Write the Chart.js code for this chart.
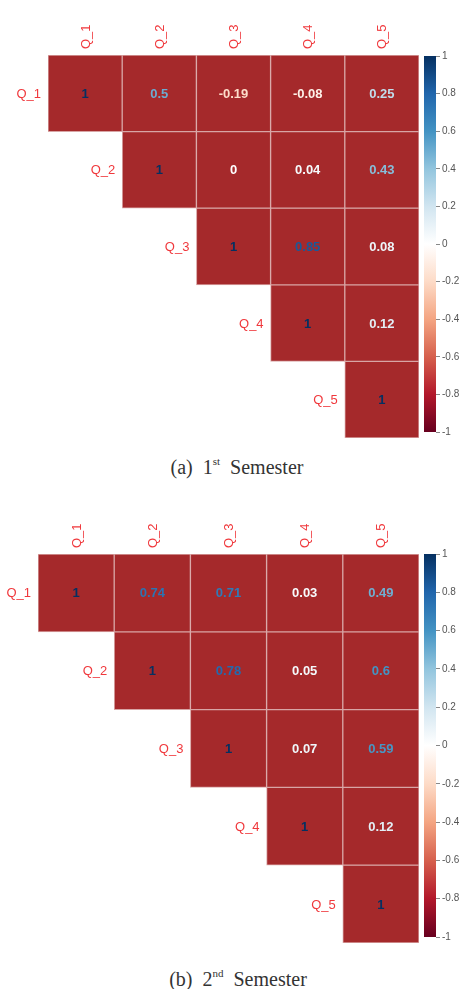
<!DOCTYPE html>
<html>
<head>
<meta charset="utf-8">
<script src="https://cdn.jsdelivr.net/npm/chart.js@4"></script>
<style>
  html, body { margin: 0; padding: 0; background: #ffffff; }
  body { width: 466px; height: 989px; position: relative; overflow: hidden; }
  canvas { position: absolute; }
  .cap { position: absolute; font-family: "Liberation Serif", "Times New Roman", serif; font-size: 20px; color: #333; text-align: center; white-space: pre; line-height: 22px; }
  .cap sup { font-size: 11px; vertical-align: 9px; line-height: 0; }
</style>
</head>
<body>
<canvas id="heat1" width="422" height="440" style="left:0;top:0;width:422px;height:440px"></canvas>
<canvas id="bar1" width="56" height="440" style="left:410px;top:0;width:56px;height:440px"></canvas>
<div class="cap" style="left:117px;top:456px;width:240px">(a)  1<sup>st</sup>  Semester</div>
<canvas id="heat2" width="422" height="445" style="left:0;top:500px;width:422px;height:445px"></canvas>
<canvas id="bar2" width="56" height="445" style="left:410px;top:500px;width:56px;height:445px"></canvas>
<div class="cap" style="left:118px;top:968px;width:240px">(b)  2<sup>nd</sup>  Semester</div>
<script>
// ---- data ----
const questions = ['Q_1', 'Q_2', 'Q_3', 'Q_4', 'Q_5'];
// upper-triangle rows, each starting at the diagonal
const sem1_Q1 = [1, 0.5, -0.19, -0.08, 0.25];
const sem1_Q2 = [1, 0, 0.04, 0.43];
const sem1_Q3 = [1, 0.85, 0.08];
const sem1_Q4 = [1, 0.12];
const sem1_Q5 = [1];
const sem2_Q1 = [1, 0.74, 0.71, 0.03, 0.49];
const sem2_Q2 = [1, 0.78, 0.05, 0.6];
const sem2_Q3 = [1, 0.07, 0.59];
const sem2_Q4 = [1, 0.12];
const sem2_Q5 = [1];
const colorbarTicks = [-1, -0.8, -0.6, -0.4, -0.2, 0, 0.2, 0.4, 0.6, 0.8, 1];
const rdbuStops = ['#67001F', '#B2182B', '#D6604D', '#F4A582', '#FDDBC7', '#FFFFFF', '#D1E5F0', '#92C5DE', '#4393C3', '#2166AC', '#053061'];

const CELL_FILL = '#a5292b';
const GRID_LINE = '#d8a5a5';
const LABEL_RED = '#f0383c';

function hexToRgb(h) { return [parseInt(h.slice(1,3),16), parseInt(h.slice(3,5),16), parseInt(h.slice(5,7),16)]; }
function valueColor(v) {
  const t = (Math.max(-1, Math.min(1, v)) + 1) / 2 * (rdbuStops.length - 1);
  const i = Math.min(rdbuStops.length - 2, Math.floor(t));
  const f = t - i;
  const a = hexToRgb(rdbuStops[i]), b = hexToRgb(rdbuStops[i + 1]);
  const c = a.map((x, k) => Math.round(x + (b[k] - x) * f));
  return 'rgb(' + c.join(',') + ')';
}
function fmt(v) { return String(v); }

const numberPlugin = {
  id: 'cellNumbers',
  afterDatasetsDraw(chart) {
    const ctx = chart.ctx;
    const xs = chart.scales.x, ys = chart.scales.y;
    const colW = xs.getPixelForValue(1) - xs.getPixelForValue(0);
    ctx.save();
    ctx.textAlign = 'center';
    ctx.textBaseline = 'middle';
    ctx.font = 'bold 13px "Liberation Sans", Arial, sans-serif';
    chart.data.datasets.forEach((ds, di) => {
      const meta = chart.getDatasetMeta(di);
      meta.data.forEach((el, i) => {
        const raw = ds.values[i];
        if (raw === null || raw === undefined) return;
        ctx.fillStyle = valueColor(raw);
        ctx.fillText(fmt(raw), el.x, (el.y + el.base) / 2 + 1);
      });
    });
    // row labels, placed left of the diagonal cell
    ctx.font = '13px "Liberation Sans", Arial, sans-serif';
    ctx.textAlign = 'right';
    ctx.fillStyle = LABEL_RED;
    questions.forEach((q, r) => {
      const x = xs.getPixelForValue(r) - colW / 2 - 7;
      const y = ys.getPixelForValue(r + 0.5);
      ctx.fillText(q, x, y + 1);
    });
    // column labels above the grid, rotated to read upward
    ctx.textAlign = 'left';
    questions.forEach((q, c) => {
      const x = xs.getPixelForValue(c);
      ctx.save();
      ctx.translate(x + 1, chart.chartArea.top - 6);
      ctx.rotate(-Math.PI / 2);
      ctx.fillText(q, 0, 0);
      ctx.restore();
    });
    ctx.restore();
  }
};

function makeHeat(id, rows, leftPad, axisH) {
  const datasets = rows.map((row, r) => {
    const data = [], values = [];
    for (let c = 0; c < questions.length; c++) {
      if (c >= r) { data.push([r, r + 1]); values.push(row[c - r]); }
      else { data.push(null); values.push(null); }
    }
    return {
      data, values,
      backgroundColor: CELL_FILL,
      borderColor: GRID_LINE,
      borderWidth: 1,
      borderSkipped: false,
      barPercentage: 1,
      categoryPercentage: 1,
      grouped: false
    };
  });
  new Chart(document.getElementById(id), {
    type: 'bar',
    data: { labels: questions, datasets },
    options: {
      responsive: false, animation: false, devicePixelRatio: 1,
      layout: { padding: { left: leftPad, right: 3, top: 0, bottom: 2 } },
      plugins: { legend: { display: false }, tooltip: { enabled: false } },
      scales: {
        x: {
          position: 'top',
          grid: { display: false }, border: { display: false },
          ticks: { display: false },
          afterFit(s) { s.height = axisH; }
        },
        y: { type: 'linear', min: 0, max: 5, reverse: true, display: false }
      }
    },
    plugins: [numberPlugin]
  });
}

function makeBar(id, topPad, bottomPad) {
  new Chart(document.getElementById(id), {
    type: 'bar',
    data: {
      labels: [''],
      datasets: [{
        data: [[-1, 1]],
        barPercentage: 1, categoryPercentage: 1, borderWidth: 0,
        backgroundColor(ctx) {
          const ca = ctx.chart.chartArea;
          if (!ca) return '#ccc';
          const g = ctx.chart.ctx.createLinearGradient(0, ca.bottom, 0, ca.top);
          rdbuStops.forEach((c, i) => g.addColorStop(i / (rdbuStops.length - 1), c));
          return g;
        }
      }]
    },
    options: {
      responsive: false, animation: false, devicePixelRatio: 1,
      layout: { padding: { left: 14, right: 0, top: topPad, bottom: bottomPad } },
      plugins: { legend: { display: false }, tooltip: { enabled: false } },
      scales: {
        x: { display: false },
        y: {
          position: 'right', min: -1, max: 1,
          afterBuildTicks(s) { s.ticks = colorbarTicks.map(v => ({ value: v })); },
          grid: { drawOnChartArea: false, tickLength: 4, tickColor: '#888' },
          border: { display: false },
          ticks: { padding: 2, color: '#555', font: { family: '"Liberation Sans", Arial, sans-serif', size: 10 },
                   callback: v => String(Math.round(v * 10) / 10) },
          afterFit(s) { s.width = 30; }
        }
      }
    }
  });
}

makeHeat('heat1', [sem1_Q1, sem1_Q2, sem1_Q3, sem1_Q4, sem1_Q5], 48, 55);
makeBar('bar1', 56, 2);
makeHeat('heat2', [sem2_Q1, sem2_Q2, sem2_Q3, sem2_Q4, sem2_Q5], 38, 54);
makeBar('bar2', 54, 2);
</script>
</body>
</html>
